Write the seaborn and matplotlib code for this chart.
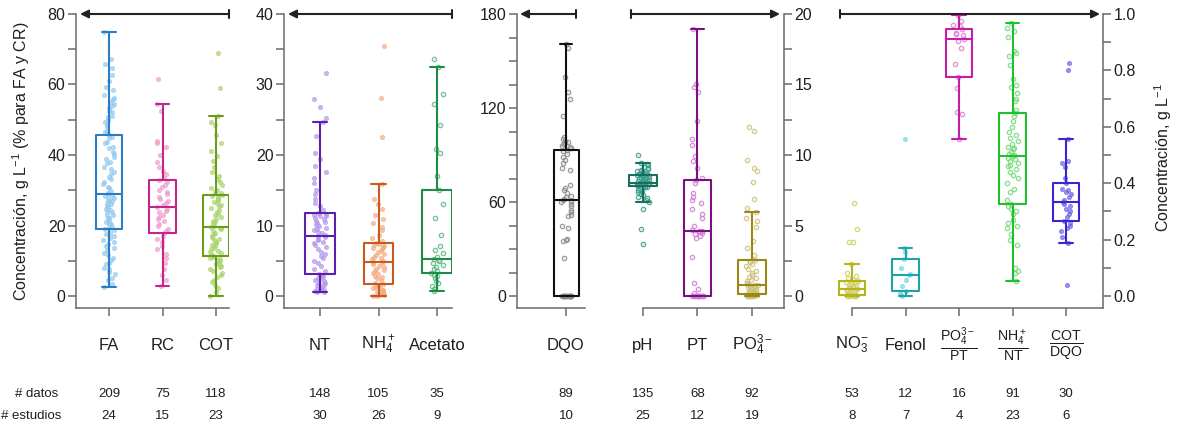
import numpy as np
import pandas as pd
import matplotlib
matplotlib.use("Agg")
import matplotlib.pyplot as plt
import matplotlib.transforms as mtransforms
from matplotlib.colors import to_rgba
from matplotlib.lines import Line2D
from matplotlib.ticker import MultipleLocator, FormatStrFormatter
import seaborn as sns

# ---------------------------------------------------------------- data
# Panel 1: g/L (FA and RC in %)
fa = [2.6, 3.4, 4.5, 5.1, 6.2, 6.7, 7.6, 8.0, 9.1, 9.5, 10.3, 10.8, 11.6,
      12.2, 13.0, 13.5, 14.3, 14.7, 15.4, 15.8, 16.5, 16.9, 17.6, 18.0, 18.6,
      18.9,
      19.4, 19.6, 20.3, 20.5, 21.1, 21.4, 22.0, 22.2, 22.9, 23.1, 23.7, 23.9,
      24.5, 24.7, 25.3, 25.5, 26.1, 26.3, 26.9, 27.0, 27.6, 27.8, 28.3, 28.5,
      28.8,
      29.3, 29.7, 30.5, 30.9, 31.8, 32.3, 33.2, 33.7, 34.7, 35.2, 36.1, 36.7,
      37.6, 38.1, 39.0, 39.5, 40.4, 40.9, 41.9, 42.4, 43.3, 43.8, 44.7, 45.1,
      45.7,
      46.4, 46.9, 47.9, 48.4, 49.3, 49.8, 50.7, 51.2, 52.1, 52.6, 53.4, 53.8,
      54.6, 55.0, 55.8, 56.2, 57.1, 58.3, 59.4, 61.1, 62.7, 64.6, 65.7, 67.1,
      74.8]
rc = [2.8, 4.6, 6.0, 7.7, 9.4, 10.8, 12.0, 13.2, 14.3, 15.4, 16.3, 17.1,
      17.8,
      18.4, 19.1, 19.8, 20.5, 21.2, 21.9, 22.5, 23.1, 23.7, 24.2, 24.7,
      25.2,
      25.8, 26.4, 27.0, 27.6, 28.2, 28.9, 29.5, 30.2, 30.9, 31.6, 32.3,
      32.9,
      33.6, 34.5, 35.4, 36.6, 37.9, 40.0, 42.3, 43.5, 44.0, 52.4, 54.4, 61.5]
cot = [0.0, 1.2, 2.3, 3.1, 3.9, 4.6, 5.3, 5.9, 6.5, 7.1, 7.6, 8.1, 8.6, 9.0,
       9.4, 9.8, 10.2, 10.5, 10.8, 11.1,
       11.3,
       11.7, 12.1, 12.5, 12.9, 13.3, 13.7, 14.1, 14.5, 14.9, 15.4, 15.8, 16.2,
       16.7, 17.1, 17.6, 18.0, 18.5, 18.9, 19.2,
       19.5,
       19.9, 20.4, 20.9, 21.4, 21.9, 22.4, 22.9, 23.4, 23.9, 24.4, 24.9, 25.4,
       25.9, 26.4, 26.8, 27.2, 27.6, 28.0, 28.3,
       28.65,
       29.1, 29.6, 30.1, 30.6, 31.4, 32.3, 33.2, 34.1, 35.3, 36.6, 38.2, 39.7,
       41.1, 43.4, 45.6, 48.6, 49.4, 51.2, 59.1, 68.9]

# Panel 2: g/L
nt = [0.5, 0.6, 0.7, 0.8, 0.9, 1.0, 1.2, 1.3, 1.5, 1.6, 1.8, 1.9, 2.1, 2.3,
      2.5, 2.6, 2.8, 3.0,
      3.1,
      3.5, 3.9, 4.3, 4.7, 5.0, 5.4, 5.7, 6.0, 6.3, 6.6, 6.9, 7.2, 7.5, 7.7,
      7.9, 8.1, 8.3,
      8.5,
      8.7, 8.9, 9.1, 9.3, 9.5, 9.7, 9.9, 10.1, 10.3, 10.5, 10.7, 10.9, 11.1,
      11.3, 11.4, 11.5, 11.7,
      11.8,
      12.2, 12.7, 13.2, 13.8, 14.4, 15.1, 16.0, 16.8, 17.6, 18.5, 19.5, 20.3,
      22.7, 24.7, 25.3, 26.8, 27.9, 31.7]
nh4 = [0.0, 0.05, 0.1, 0.2, 0.3, 0.4, 0.5, 0.6, 0.7, 0.8, 0.95, 1.1, 1.25,
       1.4, 1.55,
       1.65,
       1.9, 2.2, 2.5, 2.7, 2.9, 3.1, 3.3, 3.5, 3.7, 3.9, 4.1, 4.3, 4.5, 4.65,
       4.8,
       5.0, 5.2, 5.4, 5.6, 5.8, 6.0, 6.2, 6.4, 6.6, 6.8, 7.0, 7.1, 7.25, 7.4,
       7.5,
       7.8, 8.2, 8.7, 9.3, 9.8, 10.3, 10.9, 11.5, 12.3, 13.0, 13.8, 15.9,
       22.6, 28.1, 35.4]
acetato = [0.66, 1.0, 1.4, 1.8, 2.1, 2.5, 2.8, 3.0,
           3.2,
           3.5, 3.8, 4.1, 4.4, 4.7, 4.9, 5.1,
           5.3,
           5.6, 6.1, 6.5, 7.1, 8.65, 11.0, 13.0,
           15.0,
           17.0, 20.3, 20.8, 24.3, 27.3, 28.7, 32.5, 33.6]

# Panel 3: g/L
dqo = [0.0, 0.0, 0.0, 0.0, 0.0, 0.0, 0.0, 0.0, 0.0, 0.0, 0.0, 0.0, 0.0, 0.0,
       0.0, 0.0,
       24.0, 35.0, 35.5, 36.5, 43.6, 44.7, 51.0, 52.0, 53.5, 55.0, 57.5, 59.0,
       60.0, 60.8,
       61.3,
       62.0, 63.0, 64.0, 66.0, 67.7, 68.7, 70.6, 80.4, 82.0, 84.7, 86.8, 88.5,
       90.6, 92.3,
       93.4,
       94.5, 95.2, 96.0, 96.8, 97.4, 98.3, 99.1, 100.0, 101.7, 115.0, 125.7,
       130.0, 140.0, 158.5, 161.0]

# Panel 4: pH units and g/L
ph = [3.66, 4.75, 6.17, 6.65, 6.8, 6.95, 7.05, 7.15, 7.25, 7.35, 7.45, 7.55,
      7.62, 7.7, 7.75,
      7.8,
      7.82, 7.84, 7.86, 7.88, 7.9, 7.92, 7.94, 7.95, 7.96, 7.98, 7.99, 8.0,
      8.02, 8.03,
      8.04,
      8.07, 8.1, 8.13, 8.17, 8.2, 8.24, 8.28, 8.32, 8.36, 8.4, 8.44, 8.48,
      8.52, 8.55,
      8.58,
      8.62, 8.66, 8.7, 8.75, 8.8, 8.85, 8.9, 8.96, 9.02, 9.1, 9.18, 9.26,
      9.35, 9.46, 9.98]
pt = [0.0, 0.0, 0.0, 0.0, 0.0, 0.0, 0.0, 0.0, 0.0, 0.0, 0.0,
      0.0,
      0.2, 0.5, 0.9, 2.8, 4.1, 4.26, 4.4, 4.5, 4.55, 4.58,
      4.61,
      4.7, 5.0, 5.5, 5.8, 6.2, 6.6, 6.8, 7.0, 7.28, 8.0,
      8.23,
      8.4, 9.05, 9.6, 9.9, 10.7, 11.1, 12.4, 14.5, 14.8, 15.0, 18.94]
po4 = [0.0, 0.0, 0.0, 0.0, 0.0, 0.02, 0.03, 0.05, 0.06, 0.07, 0.08, 0.09,
       0.1, 0.11, 0.13,
       0.14,
       0.18, 0.22, 0.26, 0.3, 0.34, 0.38, 0.42, 0.46, 0.5, 0.55, 0.6, 0.65,
       0.7, 0.75,
       0.78,
       0.85, 0.95, 1.05, 1.15, 1.25, 1.35, 1.5, 1.65, 1.8, 1.95, 2.1, 2.25,
       2.38, 2.47,
       2.53,
       2.9, 3.4, 3.9, 4.9, 5.3, 5.5, 5.93, 6.26, 6.86, 8.1, 8.9, 9.05, 9.65,
       11.7, 11.96]

# Panel 5: g/L and ratios
no3 = [0.0, 0.0, 0.0, 0.0, 0.001, 0.002, 0.003, 0.004, 0.0045,
       0.005,
       0.008, 0.011, 0.014, 0.017, 0.019, 0.021, 0.023, 0.025,
       0.026,
       0.028, 0.031, 0.034, 0.037, 0.040, 0.044, 0.048, 0.051,
       0.054,
       0.058, 0.063, 0.07, 0.083, 0.113, 0.192, 0.193, 0.236, 0.329]
fenol = [0.0, 0.004, 0.012, 0.019, 0.035, 0.057, 0.076, 0.077, 0.098, 0.132,
         0.157, 0.169, 0.556]
po4_pt = [0.558, 0.644, 0.651, 0.739, 0.778, 0.823, 0.878, 0.905, 0.91,
          0.926, 0.929, 0.934, 0.947, 0.957, 0.961, 0.975, 0.996]
nh4_nt = [0.053, 0.08, 0.09, 0.10, 0.18, 0.2, 0.22, 0.24, 0.25, 0.26, 0.27,
          0.29, 0.3, 0.31, 0.32,
          0.326,
          0.34, 0.37, 0.38, 0.4, 0.42, 0.43, 0.44, 0.45, 0.46, 0.465, 0.47,
          0.48, 0.485, 0.49,
          0.496,
          0.50, 0.505, 0.51, 0.52, 0.525, 0.53, 0.54, 0.55, 0.56, 0.57, 0.58,
          0.60, 0.62, 0.64,
          0.65,
          0.66, 0.69, 0.70, 0.72, 0.74, 0.75, 0.77, 0.82, 0.85, 0.86, 0.87,
          0.92, 0.94, 0.95, 0.969]
cot_dqo = [0.039, 0.188, 0.21, 0.23, 0.24, 0.25, 0.26,
           0.267,
           0.28, 0.29, 0.30, 0.31, 0.32, 0.325,
           0.333,
           0.34, 0.35, 0.36, 0.37, 0.375, 0.38,
           0.40,
           0.42, 0.459, 0.473, 0.48, 0.558, 0.80, 0.827]

values = {
    "FA": fa, "RC": rc, "COT": cot,
    "NT": nt, "NH4": nh4, "Acetato": acetato,
    "DQO": dqo,
    "pH": ph, "PT": pt, "PO4": po4,
    "NO3": no3, "Fenol": fenol, "PO4_PT": po4_pt, "NH4_NT": nh4_nt,
    "COT_DQO": cot_dqo,
}

labels = {
    "FA": "FA", "RC": "RC", "COT": "COT",
    "NT": "NT", "NH4": r"NH$_4^+$", "Acetato": "Acetato",
    "DQO": "DQO",
    "pH": "pH", "PT": "PT", "PO4": r"PO$_4^{3-}$",
    "NO3": r"NO$_3^{-}$", "Fenol": "Fenol",
    "PO4_PT": r"$\frac{\mathrm{PO}_4^{3-}}{\mathrm{PT}}$",
    "NH4_NT": r"$\frac{\mathrm{NH}_4^+}{\mathrm{NT}}$",
    "COT_DQO": r"$\frac{\mathrm{COT}}{\mathrm{DQO}}$",
}
fraction_keys = {"PO4_PT", "NH4_NT", "COT_DQO"}

n_datos = {"FA": 209, "RC": 75, "COT": 118, "NT": 148, "NH4": 105,
           "Acetato": 35, "DQO": 89, "pH": 135, "PT": 68, "PO4": 92,
           "NO3": 53, "Fenol": 12, "PO4_PT": 16, "NH4_NT": 91, "COT_DQO": 30}
n_estudios = {"FA": 24, "RC": 15, "COT": 23, "NT": 30, "NH4": 26,
              "Acetato": 9, "DQO": 10, "pH": 25, "PT": 12, "PO4": 19,
              "NO3": 8, "Fenol": 7, "PO4_PT": 4, "NH4_NT": 23, "COT_DQO": 6}

# ---------------------------------------------------------------- styles
box_colors = {
    "FA": "#2a7dc4", "RC": "#c4258c", "COT": "#6b9b1c",
    "NT": "#5b1fae", "NH4": "#c85a1e", "Acetato": "#1d8c45",
    "DQO": "#111111",
    "pH": "#17705f", "PT": "#7b1180", "PO4": "#998816",
    "NO3": "#b3b51a", "Fenol": "#1ea3ac", "PO4_PT": "#c21ea7",
    "NH4_NT": "#21bf2c", "COT_DQO": "#3b25d2",
}
point_colors = {
    "FA": "#92c9ef", "RC": "#ee9ccd", "COT": "#a9d46a",
    "NT": "#b394ec", "NH4": "#f3ab80", "Acetato": "#5fb884",
    "DQO": "#8c8c8c",
    "pH": "#3a9c8a", "PT": "#cf7fd6", "PO4": "#cfc07a",
    "NO3": "#cfd166", "Fenol": "#6fd6e0", "PO4_PT": "#e27fd8",
    "NH4_NT": "#74da7c", "COT_DQO": "#6a5de6",
}
hollow = {"Acetato", "DQO", "pH", "PT", "PO4", "NO3", "PO4_PT", "NH4_NT"}

W, H = 1184, 426
TOP_PX, BOT_PX, ZERO_PX = 14, 308, 296
ROW_DATOS_PX, ROW_ESTUDIOS_PX = 394, 416

panels = [
    dict(keys=["FA", "RC", "COT"], top=80, major=20, minor=10, side="left",
         px=(76, 229), xlim=(-0.617, 2.243), bounds=None, fmt="%d",
         arrow=(80, 229)),
    dict(keys=["NT", "NH4", "Acetato"], top=40, major=10, minor=5, side="left",
         px=(284, 452), xlim=(-0.615, 2.256), bounds=None, fmt="%d",
         arrow=(288, 452)),
    dict(keys=["DQO"], top=180, major=60, minor=15, side="left",
         px=(517, 585), xlim=(-0.98, 0.38), bounds=None, fmt="%d",
         arrow=(520, 576)),
    dict(keys=["pH", "PT", "PO4"], top=20, major=5, minor=2.5, side="right",
         px=(616, 784), xlim=(-0.495, 2.587), bounds=(0, 2.587), fmt="%d",
         arrow=(780, 631)),
    dict(keys=["NO3", "Fenol", "PO4_PT", "NH4_NT", "COT_DQO"], top=1.0,
         major=0.2, minor=0.1, side="right", px=(825, 1103),
         xlim=(-0.505, 4.69), bounds=(0, 4.69), fmt="%.1f",
         arrow=(1100, 840)),
]

sns.set_theme(style="ticks")
plt.rcParams["font.family"] = ["Liberation Sans", "DejaVu Sans"]
plt.rcParams["mathtext.fontset"] = "custom"
plt.rcParams["mathtext.rm"] = "Liberation Sans"
plt.rcParams["mathtext.it"] = "Liberation Sans:italic"
plt.rcParams["mathtext.bf"] = "Liberation Sans:bold"
plt.rcParams["mathtext.sf"] = "Liberation Sans"

SPINE = "#6a6a6a"
INK = "#1e1e1e"
ARROW = "#222222"

np.random.seed(7)
fig = plt.figure(figsize=(W / 100, H / 100), dpi=100)

for p in panels:
    x0, x1 = p["px"]
    ax = fig.add_axes([x0 / W, 1 - BOT_PX / H, (x1 - x0) / W,
                       (BOT_PX - TOP_PX) / H])
    keys = p["keys"]
    df = pd.DataFrame({
        "cat": [k for k in keys for _ in values[k]],
        "val": [v for k in keys for v in values[k]],
    })

    n0 = len(ax.collections)
    sns.stripplot(data=df, x="cat", y="val", hue="cat", order=keys,
                  hue_order=keys,
                  palette={k: point_colors[k] for k in keys},
                  jitter=0.11, size=3.2, linewidth=0, legend=False,
                  ax=ax, zorder=1)
    for k, coll in zip(keys, ax.collections[n0:]):
        c = point_colors[k]
        if k in hollow:
            coll.set_facecolor(to_rgba(c, 0.15))
            coll.set_edgecolor(to_rgba(c, 0.9))
            coll.set_linewidth(0.8)
        else:
            coll.set_facecolor(to_rgba(c, 0.7))
            coll.set_edgecolor(to_rgba(c, 0.8))
            coll.set_linewidth(0.4)

    sns.boxplot(data=df, x="cat", y="val", hue="cat", order=keys,
                hue_order=keys, palette={k: box_colors[k] for k in keys},
                fill=False, width=0.5, linewidth=1.5, whis=1.5,
                showfliers=False, saturation=1, legend=False, ax=ax)

    top = p["top"]
    ax.set_xlim(p["xlim"])
    ax.set_ylim(-top * (BOT_PX - ZERO_PX) / (ZERO_PX - TOP_PX), top)
    ax.set_xlabel("")
    ax.set_ylabel("")
    ax.set_xticks(range(len(keys)))
    ax.set_xticklabels([labels[k] for k in keys])

    ax.yaxis.set_major_locator(MultipleLocator(p["major"]))
    ax.yaxis.set_minor_locator(MultipleLocator(p["minor"]))
    ax.yaxis.set_major_formatter(FormatStrFormatter(p["fmt"]))

    for s in ["top", "right", "left", "bottom"]:
        ax.spines[s].set_visible(False)
    ax.spines[p["side"]].set_visible(True)
    ax.spines["bottom"].set_visible(True)
    for s in ax.spines.values():
        s.set_color(SPINE)
        s.set_linewidth(1.1)
    if p["bounds"] is not None:
        ax.spines["bottom"].set_bounds(*p["bounds"])
    if p["side"] == "right":
        ax.yaxis.tick_right()

    ax.tick_params(axis="both", which="both", direction="out", length=5.8,
                   width=1.1, color=SPINE, labelcolor=INK)
    ax.tick_params(axis="y", which="major", labelsize=11.5, pad=1.8)
    ax.tick_params(axis="x", labelsize=12, pad=21)
    for k, t in zip(keys, ax.get_xticklabels()):
        t.set_va("center")
        if k in fraction_keys:
            t.set_fontsize(14.5)

    # sample counts under each category
    tr = mtransforms.blended_transform_factory(ax.transData, fig.transFigure)
    for i, k in enumerate(keys):
        ax.text(i, 1 - ROW_DATOS_PX / H, str(n_datos[k]), transform=tr,
                ha="center", va="center", fontsize=9.5, color=INK)
        ax.text(i, 1 - ROW_ESTUDIOS_PX / H, str(n_estudios[k]), transform=tr,
                ha="center", va="center", fontsize=9.5, color=INK)

    # top arrow pointing to the axis that applies to the panel
    head, tail = p["arrow"]
    ya = 1 - TOP_PX / H
    ax.annotate("", xy=(head / W, ya), xytext=(tail / W, ya),
                xycoords="figure fraction", textcoords="figure fraction",
                arrowprops=dict(arrowstyle="-|>", color=ARROW, lw=1.5,
                                mutation_scale=12, shrinkA=0, shrinkB=0),
                annotation_clip=False)
    fig.add_artist(Line2D([tail / W, tail / W],
                          [1 - (TOP_PX - 4) / H, 1 - (TOP_PX + 4) / H],
                          transform=fig.transFigure, color=ARROW, lw=1.5))

fig.text(37 / W, 1 - ROW_DATOS_PX / H, "# datos", ha="center", va="center",
         fontsize=9.5, color=INK)
fig.text(31.5 / W, 1 - ROW_ESTUDIOS_PX / H, "# estudios", ha="center",
         va="center", fontsize=9.5, color=INK)

fig.text(21 / W, 1 - 161 / H, r"Concentración, g L$^{-1}$ (% para FA y CR)",
         rotation=90, ha="center", va="center", fontsize=11.5, color=INK)
fig.text(1163 / W, 1 - 158 / H, r"Concentración, g L$^{-1}$",
         rotation=90, ha="center", va="center", fontsize=11.5, color=INK)

fig.savefig("out.png", dpi=100)
